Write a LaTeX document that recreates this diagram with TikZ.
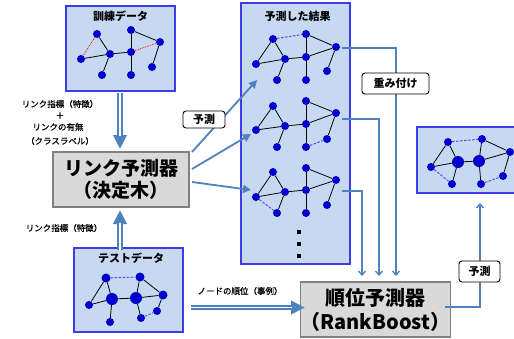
\documentclass[tikz,border=0pt]{standalone}
\usepackage{fontspec}
\setmainfont{Noto Sans CJK JP}
\newfontfamily\sidefont{Noto Sans CJK JP}[FakeBold=0.8]
\usetikzlibrary{arrows.meta,calc}
\definecolor{panelfill}{RGB}{198,217,241}
\definecolor{panelborder}{RGB}{60,60,235}
\definecolor{nodeblue}{RGB}{0,0,204}
\definecolor{dotblue}{RGB}{80,80,255}
\definecolor{steel}{RGB}{79,129,189}
\definecolor{boxgray}{RGB}{217,217,217}
\definecolor{boxborder}{RGB}{128,128,128}
\begin{document}
\begin{tikzpicture}[x=1pt,y=-1pt,
  panel/.style={draw=panelborder, fill=panelfill, line width=1.4pt, inner sep=0pt},
  gbox/.style={draw=boxborder, fill=boxgray, line width=1.2pt, inner sep=0pt, align=center},
  lbl/.style={draw=black, fill=white, rounded corners=3pt, line width=0.9pt, inner sep=0pt, font=\bfseries\fontsize{11}{12}\selectfont},
  gn/.style={circle, fill=nodeblue, inner sep=0pt, minimum size=8pt},
  gnm/.style={gn, minimum size=9pt},
  gnb/.style={gn, minimum size=12pt},
  ge/.style={black, line width=0.8pt},
  rdot/.style={red, line width=0.8pt, densely dotted},
  bdot/.style={dotblue, line width=1pt, dash pattern=on 2.5pt off 1.5pt},
  ttl/.style={font=\bfseries\fontsize{11}{12}\selectfont},
  side/.style={font=\sidefont\fontsize{8.5}{9}\selectfont},
  barr/.style={steel, line width=1.8pt, -{Triangle[length=8pt,width=8pt]}},
  farr/.style={steel, line width=1.3pt, -{Straight Barb[length=4pt,width=7pt]}},
  dshaft/.style={steel, line width=5.4pt, -{Triangle[length=14pt,width=13pt]}},
  dgap/.style={white, line width=1.8pt, shorten >=13pt},
  sq/.style={fill=black, inner sep=0pt, minimum size=4pt},
]
\useasboundingbox (0,0) rectangle (514,338);

% panels
\node[panel, minimum width=109pt, minimum height=85pt] (trainp) at (120.5,48.5) {};
\node[ttl] (traint) at (120.5,16.5) {訓練データ};
\node[panel, minimum width=109pt, minimum height=84pt] (testp) at (128.5,290) {};
\node[ttl] (testt) at (131,258) {テストデータ};
\node[panel, minimum width=109pt, minimum height=261pt] (resp) at (295.5,133.5) {};
\node[ttl] (rest) at (297.5,16) {予測した結果};
\begin{scope}
\clip (0,0) rectangle (514,338);
\node[panel, minimum width=103pt, minimum height=66pt] (outp) at (468.5,160) {};
\end{scope}

% training graph
\node[gn] (a1) at (97,34) {};
\node[gn] (a2) at (81,59) {};
\node[gn] (a3) at (110,54) {};
\node[gn] (a4) at (131,30) {};
\node[gn] (a5) at (131,52) {};
\node[gn] (a6) at (160,42) {};
\node[gn] (a7) at (152,67) {};
\node[gn] (a8) at (102,75) {};
\node[gn] (a9) at (131,75) {};
\draw[ge] (a1) -- (a3); \draw[ge] (a2) -- (a3); \draw[ge] (a3) -- (a5);
\draw[ge] (a4) -- (a5); \draw[ge] (a4) -- (a6); \draw[ge] (a5) -- (a9);
\draw[ge] (a3) -- (a8); \draw[ge] (a6) -- (a7);
\draw[rdot] (a1) -- (a2); \draw[rdot] (a5) -- (a6);

% result graph 1
\node[gn] (b1) at (273,39) {};
\node[gn] (b2) at (256,64) {};
\node[gn] (b3) at (285,59) {};
\node[gn] (b4) at (306,34) {};
\node[gn] (b5) at (306,57) {};
\node[gn] (b6) at (336,47) {};
\node[gn] (b7) at (327,71) {};
\node[gn] (b8) at (277,80) {};
\node[gn] (b9) at (306,80) {};
\draw[ge] (b1) -- (b2); \draw[ge] (b1) -- (b3); \draw[ge] (b2) -- (b3);
\draw[ge] (b3) -- (b5); \draw[ge] (b4) -- (b5); \draw[ge] (b4) -- (b6);
\draw[ge] (b5) -- (b6); \draw[ge] (b3) -- (b8); \draw[ge] (b5) -- (b9);
\draw[ge] (b6) -- (b7);
\draw[bdot] (b1) -- (b4);

% result graph 2
\node[gn] (c1) at (273,106) {};
\node[gn] (c2) at (256,130) {};
\node[gn] (c3) at (285,126) {};
\node[gn] (c4) at (306,101) {};
\node[gn] (c5) at (306,124) {};
\node[gn] (c6) at (336,113) {};
\node[gn] (c7) at (327,139) {};
\node[gn] (c8) at (277,147) {};
\node[gn] (c9) at (306,147) {};
\draw[ge] (c1) -- (c2); \draw[ge] (c1) -- (c3); \draw[ge] (c2) -- (c3);
\draw[ge] (c3) -- (c5); \draw[ge] (c4) -- (c5); \draw[ge] (c4) -- (c6);
\draw[ge] (c5) -- (c6); \draw[ge] (c3) -- (c8); \draw[ge] (c5) -- (c9);
\draw[ge] (c6) -- (c7);
\draw[bdot] (c9) -- (c7);

% result graph 3
\node[gn] (d1) at (273,172) {};
\node[gn] (d2) at (256,197) {};
\node[gn] (d3) at (285,192) {};
\node[gn] (d4) at (306,168) {};
\node[gn] (d5) at (306,190) {};
\node[gn] (d6) at (336,180) {};
\node[gn] (d7) at (327,205) {};
\node[gn] (d8) at (277,213) {};
\node[gn] (d9) at (306,213) {};
\draw[ge] (d1) -- (d2); \draw[ge] (d1) -- (d3); \draw[ge] (d2) -- (d3);
\draw[ge] (d3) -- (d5); \draw[ge] (d4) -- (d5); \draw[ge] (d4) -- (d6);
\draw[ge] (d5) -- (d6); \draw[ge] (d3) -- (d8); \draw[ge] (d5) -- (d9);
\draw[ge] (d6) -- (d7);
\draw[bdot] (d2) -- (d8);

\node[sq] (q1) at (299,232) {};
\node[sq] (q2) at (299,244) {};
\node[sq] (q3) at (299,256) {};

% test graph
\node[gnm] (e1) at (106,278) {};
\node[gn] (e2) at (89,305) {};
\node[gnb] (e3) at (112,299) {};
\node[gnm] (e4) at (140,277) {};
\node[gnb] (e5) at (136,298) {};
\node[gnm] (e6) at (163,295) {};
\node[gn] (e7) at (157,311) {};
\node[gn] (e8) at (110,322) {};
\node[gn] (e9) at (141,318) {};
\draw[ge] (e1) -- (e2); \draw[ge] (e1) -- (e3); \draw[ge] (e2) -- (e3);
\draw[ge] (e3) -- (e5); \draw[ge] (e4) -- (e5); \draw[ge] (e4) -- (e6);
\draw[ge] (e5) -- (e6); \draw[ge] (e3) -- (e8); \draw[ge] (e5) -- (e9);
\draw[ge] (e6) -- (e7);
\draw[bdot] (e1) -- (e4); \draw[bdot] (e9) -- (e7);

% output graph
\node[gn] (f1) at (448,142) {};
\node[gn] (f2) at (431,167) {};
\node[gnb] (f3) at (458,162) {};
\node[gn] (f4) at (482,139) {};
\node[gnb] (f5) at (479,161) {};
\node[gn] (f6) at (510,152) {};
\node[gn] (f7) at (503,176) {};
\node[gn] (f8) at (452,184) {};
\node[gn] (f9) at (481,184) {};
\draw[ge] (f1) -- (f2); \draw[ge] (f1) -- (f3); \draw[ge] (f2) -- (f3);
\draw[ge] (f3) -- (f5); \draw[ge] (f4) -- (f5); \draw[ge] (f4) -- (f6);
\draw[ge] (f5) -- (f6); \draw[ge] (f3) -- (f8); \draw[ge] (f5) -- (f9);
\draw[ge] (f6) -- (f7);
\draw[bdot] (f1) -- (f4); \draw[bdot] (f2) -- (f8); \draw[bdot] (f9) -- (f7);

% main boxes
\node[gbox, minimum width=136pt, minimum height=55pt, font=\bfseries\fontsize{19}{22}\selectfont] (link) at (121,179.5) {リンク予測器\\（決定木）};
\node[gbox, minimum width=135pt, minimum height=55pt, font=\bfseries\fontsize{20}{24}\selectfont] (rank) at (375.5,309.5) {順位予測器\\（RankBoost）};

% side labels
\node[side] (s1) at (60,104) {リンク指標（特徴）};
\node[side] (s2) at (60,115.5) {＋};
\node[side] (s3) at (58,127) {リンクの有無};
\node[side] (s4) at (60,141) {（クラスラベル）};
\node[side] (s5) at (64,228) {リンク指標（特徴）};
\node[side] (s6) at (240,291) {ノードの順位（事例）};

% double arrows
\coordinate (d1s) at (120,93);
\coordinate (d1e) at (120,149);
\draw[dshaft] (d1s) -- (d1e);
\draw[dgap] (d1s) -- (d1e);
\coordinate (d2s) at (120,250);
\coordinate (d2e) at (120,210);
\draw[dshaft] (d2s) -- (d2e);
\draw[dgap] (d2s) -- (d2e);
\coordinate (d3s) at (191,307.5);
\coordinate (d3e) at (305,307.5);
\draw[dshaft] (d3s) -- (d3e);
\draw[dgap] (d3s) -- (d3e);

% prediction arrows into results
\coordinate (p1s) at (192,152); \coordinate (p1e) at (257,80);
\coordinate (p2s) at (192,169); \coordinate (p2e) at (251,134);
\coordinate (p3s) at (192,182); \coordinate (p3e) at (251,190);
\draw[barr] (p1s) -- (p1e);
\draw[barr] (p2s) -- (p2e);
\draw[barr] (p3s) -- (p3e);

% results to rank
\coordinate (r1s) at (342,48);  \coordinate (r1e) at (396,276);
\coordinate (r2s) at (342,119); \coordinate (r2e) at (379,276);
\coordinate (r3s) at (342,191); \coordinate (r3e) at (362,276);
\draw[farr] (r1s) -| (r1e);
\draw[farr] (r2s) -| (r2e);
\draw[farr] (r3s) -| (r3e);

% rank to output
\coordinate (o1s) at (445,307); \coordinate (o1e) at (480,203);
\draw[farr] (o1s) -| (o1e);

% label boxes
\node[lbl, minimum width=42pt, minimum height=17pt] (lp1) at (204,119.5) {予測};
\node[lbl, minimum width=67pt, minimum height=21pt] (lw) at (395.5,83.5) {重み付け};
\node[lbl, minimum width=41pt, minimum height=21pt] (lp2) at (479.5,271.5) {予測};
\end{tikzpicture}
\end{document}
